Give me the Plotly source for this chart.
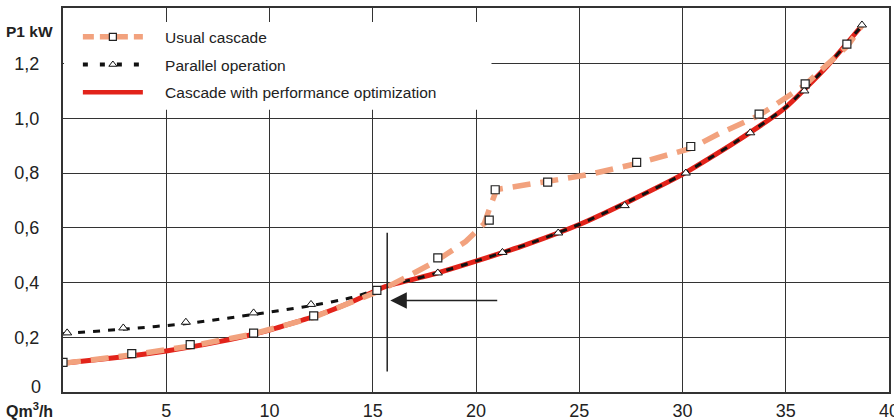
import plotly.graph_objects as go

# ---- data ----
x_ticks = [5, 10, 15, 20, 25, 30, 35]
x_last_tick = 40
y_ticks = [0.2, 0.4, 0.6, 0.8, 1.0, 1.2]
y_ticktext = ["0,2", "0,4", "0,6", "0,8", "1,0", "1,2"]
y_zero_label = "0"

usual_line_x = [0, 3.3, 6.2, 9.2, 12.1, 15.2, 16.5, 18.0, 19.5, 20.4, 20.7, 21.0, 23.5, 25.5, 27.8, 30.4, 31.8, 33.7, 35.9, 38.0, 38.7]
usual_line_y = [0.105, 0.135, 0.168, 0.212, 0.272, 0.365, 0.415, 0.475, 0.55, 0.615, 0.68, 0.74, 0.77, 0.795, 0.835, 0.89, 0.945, 1.01, 1.12, 1.265, 1.34]
usual_mark_x = [0, 3.33, 6.16, 9.23, 12.14, 15.2, 18.15, 20.64, 20.93, 23.47, 27.78, 30.4, 33.71, 35.94, 37.96]
usual_mark_y = [0.108, 0.14, 0.173, 0.215, 0.278, 0.371, 0.49, 0.628, 0.739, 0.767, 0.839, 0.897, 1.015, 1.126, 1.271]

parallel_line_x = [0, 3, 6, 9.2, 12, 14, 15.6, 18, 20, 22.5, 25, 27.5, 30, 32.5, 35, 37, 38.7]
parallel_line_y = [0.213, 0.23, 0.25, 0.283, 0.315, 0.345, 0.385, 0.432, 0.478, 0.54, 0.612, 0.70, 0.795, 0.91, 1.04, 1.19, 1.34]
parallel_mark_x = [0.2, 2.92, 5.95, 9.23, 12.01, 18.15, 21.28, 23.98, 27.2, 30.16, 33.28, 35.9, 38.69]
parallel_mark_y = [0.216, 0.234, 0.255, 0.289, 0.32, 0.435, 0.51, 0.581, 0.681, 0.8, 0.947, 1.10, 1.341]

optim_x = [0, 2.5, 5, 7.5, 10, 12.5, 14, 15.6, 18, 20, 22.5, 25, 27.5, 30, 32.5, 35, 37, 38.7]
optim_y = [0.105, 0.125, 0.15, 0.183, 0.226, 0.285, 0.33, 0.385, 0.432, 0.478, 0.54, 0.612, 0.70, 0.795, 0.91, 1.04, 1.19, 1.34]

marker_line_x = 15.7
marker_line_y = [0.075, 0.582]
arrow_from = (21.1, 0.334)
arrow_to = (15.85, 0.334)

ORANGE = "#F2A27E"
RED = "#E2231A"
BLACK = "#111111"
FONT = "Liberation Sans"
NB = "\u00a0" * 4

fig = go.Figure()

fig.add_trace(go.Scatter(x=optim_x, y=optim_y, mode="lines", line=dict(color=RED, width=5, shape="spline", smoothing=0.5),
                         showlegend=False, hoverinfo="skip"))
fig.add_trace(go.Scatter(x=parallel_line_x, y=parallel_line_y, mode="lines",
                         line=dict(color=BLACK, width=3, dash="7px,8px", shape="spline", smoothing=0.5),
                         showlegend=False, hoverinfo="skip"))
fig.add_trace(go.Scatter(x=usual_line_x, y=usual_line_y, mode="lines",
                         line=dict(color=ORANGE, width=5.5, dash="18px,10px"),
                         showlegend=False, hoverinfo="skip"))
fig.add_trace(go.Scatter(x=parallel_mark_x, y=parallel_mark_y, mode="markers",
                         marker=dict(symbol="triangle-up", size=8, color="white", line=dict(color=BLACK, width=1)),
                         showlegend=False, hoverinfo="skip"))
fig.add_trace(go.Scatter(x=usual_mark_x, y=usual_mark_y, mode="markers",
                         marker=dict(symbol="square", size=8, color="white", line=dict(color="#222222", width=1.2)),
                         showlegend=False, hoverinfo="skip"))

# legend entries
fig.add_trace(go.Scatter(x=[None], y=[None], mode="lines+markers", name=NB + "Usual cascade", legendgroup="a",
                         line=dict(color=ORANGE, width=5.5, dash="11px,6px"),
                         marker=dict(symbol="square", size=7, color="white", line=dict(color="#222222", width=1.2))))
fig.add_trace(go.Scatter(x=[None], y=[None], mode="lines+markers", name=NB + "Parallel operation", legendgroup="b",
                         line=dict(color=BLACK, width=4, dash="5px,12px"),
                         marker=dict(symbol="triangle-up", size=7, color="white", line=dict(color=BLACK, width=1))))
fig.add_trace(go.Scatter(x=[None], y=[None], mode="lines", name=NB + "Cascade with performance optimization", legendgroup="c",
                         line=dict(color=RED, width=4.5)))

fig.add_shape(type="rect", xref="x", yref="y", x0=0.05, x1=20.75, y0=1.031, y1=1.352,
              fillcolor="white", line=dict(width=0), layer="between")

fig.add_shape(type="line", xref="x", yref="y", x0=marker_line_x, x1=marker_line_x,
              y0=marker_line_y[0], y1=marker_line_y[1], line=dict(color="#222222", width=1.5))

fig.add_annotation(x=arrow_to[0], y=arrow_to[1], ax=arrow_from[0], ay=arrow_from[1],
                   xref="x", yref="y", axref="x", ayref="y", text="", showarrow=True,
                   arrowhead=2, arrowsize=2.2, arrowwidth=1.5, arrowcolor="#222222")

fig.add_annotation(x=x_last_tick, y=0, xref="x", yref="y", yshift=-19, text=str(x_last_tick), showarrow=False,
                   xanchor="center", yanchor="middle", font=dict(family=FONT, size=18, color="#222222"))
fig.add_annotation(x=0, y=0, xref="x", yref="y", xshift=-20, yshift=5, text=y_zero_label, showarrow=False,
                   xanchor="right", yanchor="middle", font=dict(family=FONT, size=18, color="#222222"))

fig.add_annotation(x=-0.0097, y=0.9376, xref="paper", yref="paper", text="<b>P1 kW</b>", showarrow=False,
                   xanchor="right", yanchor="middle", font=dict(family=FONT, size=15.5, color="#222222"))
fig.add_annotation(x=-0.0714, y=-0.046, xref="paper", yref="paper", text="<b>Qm<sup>3</sup>/h</b>", showarrow=False,
                   xanchor="left", yanchor="middle", font=dict(family=FONT, size=16, color="#222222"))

fig.update_layout(
    width=894, height=420,
    margin=dict(l=63, r=5, t=8, b=28),
    paper_bgcolor="white", plot_bgcolor="white",
    font=dict(family=FONT, color="#222222"),
    legend=dict(x=0.018, y=0.968, xanchor="left", yanchor="top", bgcolor="rgba(0,0,0,0)",
                itemwidth=60, font=dict(family=FONT, size=15.5, color="#222222"),
                traceorder="grouped", tracegroupgap=4.5),
)
fig.update_xaxes(range=[0, 40], tickvals=x_ticks, ticktext=[str(v) for v in x_ticks],
                 showgrid=True, gridcolor="#333333", gridwidth=1, automargin=False,
                 showline=True, linecolor="#333333", linewidth=2, mirror=True,
                 ticks="outside", ticklen=1, tickcolor="rgba(0,0,0,0)",
                 tickfont=dict(size=18, color="#222222"), zeroline=False)
fig.update_yaxes(range=[0, 1.403], tickvals=y_ticks, ticktext=y_ticktext,
                 showgrid=True, gridcolor="#333333", gridwidth=1, automargin=False,
                 showline=True, linecolor="#333333", linewidth=2, mirror=True,
                 ticks="outside", ticklen=18, tickcolor="rgba(0,0,0,0)",
                 tickfont=dict(size=18, color="#222222"), zeroline=False)

fig.write_html("out.html")
